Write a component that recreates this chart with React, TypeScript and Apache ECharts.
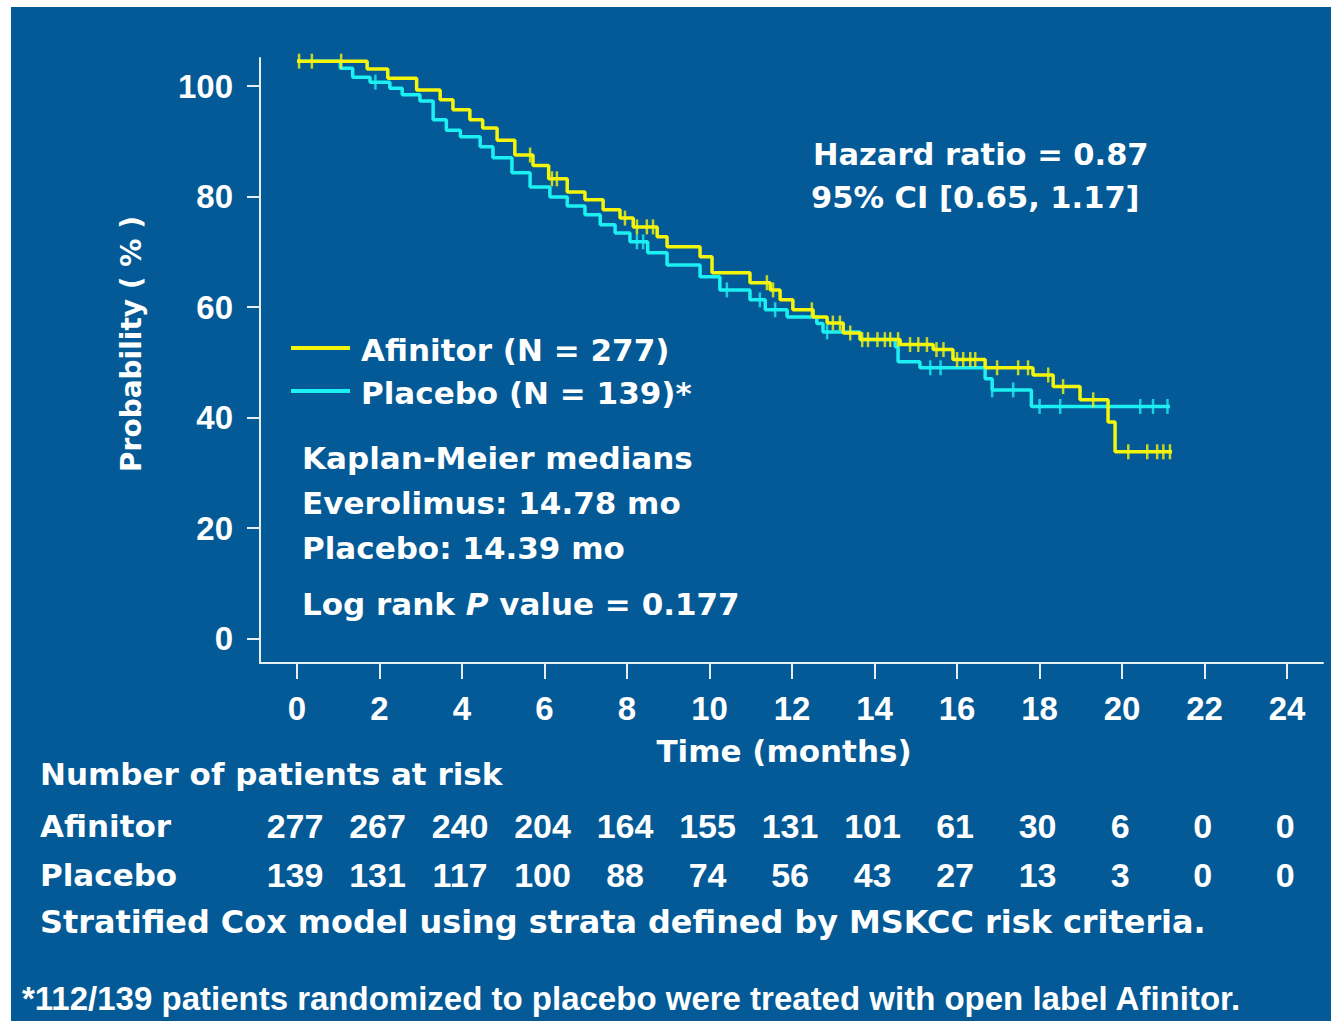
import React, { useEffect, useRef } from "react";
import * as echarts from "echarts";

// ---- data ----
const xTicks = [0, 2, 4, 6, 8, 10, 12, 14, 16, 18, 20, 22, 24];
const yTicks = [0, 20, 40, 60, 80, 100];

// KM step points: [time (months), probability after the step]
const afinitorSteps: [number, number][] = [
  [0, 104.5], [1.7, 103.1], [2.2, 101.4], [2.9, 99.3], [3.47, 97.5], [3.78, 95.7],
  [4.19, 93.9], [4.5, 92.4], [4.85, 90.2], [5.28, 87.5], [5.72, 85.6], [6.1, 83.2],
  [6.55, 80.8], [6.98, 79.4], [7.42, 77.6], [7.83, 76.1], [8.15, 74.5], [8.73, 72.7],
  [8.97, 70.9], [9.77, 69.1], [10.06, 66.2], [10.98, 64.4], [11.47, 63.1], [11.71, 61.3],
  [12.02, 59.5], [12.51, 58.2], [12.85, 57.1], [13.24, 55.3], [13.65, 54.1], [14.62, 53.2],
  [15.42, 52.3], [15.9, 50.5], [16.68, 49.0], [17.84, 47.7], [18.33, 45.6], [18.98, 43.2],
  [19.66, 39.2], [19.83, 33.8], [21.21, 33.8],
];
const placeboSteps: [number, number][] = [
  [0, 104.5], [1.05, 103.2], [1.35, 101.6], [1.77, 100.7], [2.25, 99.6], [2.55, 98.4],
  [2.98, 97.3], [3.3, 93.9], [3.62, 92.0], [3.96, 90.8], [4.44, 89.0], [4.75, 87.0],
  [5.21, 84.3], [5.65, 81.7], [6.13, 79.9], [6.55, 78.3], [6.98, 76.7], [7.35, 74.9],
  [7.71, 73.4], [8.07, 71.8], [8.5, 69.8], [8.97, 67.6], [9.77, 65.5], [10.25, 63.1],
  [10.98, 61.3], [11.35, 59.5], [11.88, 58.2], [12.6, 57.0], [12.75, 55.5], [13.65, 54.1],
  [14.5, 52.8], [14.57, 50.1], [15.1, 49.0], [16.68, 47.0], [16.85, 45.0], [17.8, 42.0],
  [21.16, 42.0],
];
const afinitorCensor = [
  0.05, 0.36, 1.07, 5.65, 6.18, 6.3, 7.95, 8.24, 8.48, 8.63, 11.39, 11.54, 12.48, 12.99,
  13.16, 13.41, 13.7, 13.84, 14.07, 14.25, 14.38, 14.57, 14.86, 15.06, 15.27, 15.5, 15.67,
  16.0, 16.15, 16.32, 16.44, 16.97, 17.48, 17.72, 18.21, 18.57, 19.3, 20.15, 20.61, 20.85,
  21.0, 21.16,
];
const placeboCensor = [
  1.9, 8.24, 8.39, 10.42, 11.22, 11.59, 12.85, 15.35, 15.6, 16.85, 17.36, 18.0, 18.5, 20.44,
  20.75, 21.1,
];

const riskTimes = [0, 2, 4, 6, 8, 10, 12, 14, 16, 18, 20, 22, 24];
const afinitorAtRisk = [277, 267, 240, 204, 164, 155, 131, 101, 61, 30, 6, 0, 0];
const placeboAtRisk = [139, 131, 117, 100, 88, 74, 56, 43, 27, 13, 3, 0, 0];

const YELLOW = "#F5F50A";
const CYAN = "#1CF0F2";
const BLUE = "#035A96";
const WHITE = "#FFFFFF";
const FONT = "DejaVu Sans";
const DIGIT_FONT = "Liberation Sans";

function stepAt(steps: [number, number][], t: number): number {
  let v = steps[0][1];
  for (const [x, y] of steps) {
    if (x <= t) v = y;
    else break;
  }
  return v;
}

export default function App() {
  const ref = useRef<HTMLDivElement>(null);

  useEffect(() => {
    if (!ref.current) return;
    const chart = echarts.init(ref.current, null, { renderer: "svg" });

    const axisLine = { show: true, lineStyle: { color: "#E6EEF5", width: 2 } };

    chart.setOption({
      animation: false,
      backgroundColor: "#FFFFFF",
      grid: { left: 260, top: 58, width: 1063, height: 605, containLabel: false },
      xAxis: {
        type: "value",
        min: -0.897,
        max: 24.87,
        axisLine: { ...axisLine, onZero: false },
        axisTick: { show: true, length: 16, lineStyle: { color: "#E6EEF5", width: 2 }, customValues: xTicks },
        axisLabel: {
          show: true,
          customValues: xTicks,
          color: WHITE,
          fontFamily: DIGIT_FONT,
          fontWeight: "bold",
          fontSize: 33,
          margin: 29,
        },
        splitLine: { show: false },
      },
      yAxis: {
        type: "value",
        min: -4.43,
        max: 105.07,
        axisLine: { ...axisLine, onZero: false },
        axisTick: { show: true, length: 13, lineStyle: { color: "#E6EEF5", width: 2 }, customValues: yTicks },
        axisLabel: {
          show: true,
          customValues: yTicks,
          color: WHITE,
          fontFamily: DIGIT_FONT,
          fontWeight: "bold",
          fontSize: 33,
          margin: 27,
        },
        splitLine: { show: false },
      },
      series: [
        {
          name: "Placebo (N = 139)*",
          type: "line",
          step: "end",
          data: placeboSteps,
          symbol: "none",
          lineStyle: { color: CYAN, width: 3.5 },
          z: 3,
        },
        {
          name: "Placebo censored",
          type: "scatter",
          data: placeboCensor.map((t) => [t, stepAt(placeboSteps, t)]),
          symbol: "rect",
          symbolSize: [2.5, 15],
          itemStyle: { color: CYAN },
          z: 3,
        },
        {
          name: "Afinitor (N = 277)",
          type: "line",
          step: "end",
          data: afinitorSteps,
          symbol: "none",
          lineStyle: { color: YELLOW, width: 3.5 },
          z: 4,
        },
        {
          name: "Afinitor censored",
          type: "scatter",
          data: afinitorCensor.map((t) => [t, stepAt(afinitorSteps, t)]),
          symbol: "rect",
          symbolSize: [2.5, 15],
          itemStyle: { color: YELLOW },
          z: 4,
        },
      ],
    });

    const txt = (text: string, x: number, y: number, extra: any = {}) => ({
      type: "text",
      x,
      y,
      silent: true,
      z: 10,
      style: {
        text,
        fill: WHITE,
        font: `bold 31px "${FONT}"`,
        textVerticalAlign: "middle",
        verticalAlign: "middle",
        ...extra,
      },
    });

    const px = (t: number) => chart.convertToPixel({ xAxisIndex: 0 }, t) as number;

    const elements: any[] = [
      {
        type: "rect",
        shape: { x: 11, y: 7, width: 1320, height: 1014 },
        style: { fill: BLUE },
        z: -100,
        silent: true,
      },
      txt("Hazard ratio = 0.87", 813, 154, { font: `bold 30.5px "${FONT}"` }),
      txt("95% CI [0.65, 1.17]", 811, 197, { font: `bold 30.5px "${FONT}"` }),
      {
        type: "line",
        shape: { x1: 291, y1: 348, x2: 350, y2: 348 },
        style: { stroke: YELLOW, lineWidth: 4 },
        z: 10,
        silent: true,
      },
      {
        type: "line",
        shape: { x1: 291, y1: 391, x2: 350, y2: 391 },
        style: { stroke: CYAN, lineWidth: 4 },
        z: 10,
        silent: true,
      },
      txt("Afinitor (N = 277)", 361, 350),
      txt("Placebo (N = 139)*", 361, 393),
      txt("Kaplan-Meier medians", 302, 458),
      txt("Everolimus: 14.78 mo", 302, 503),
      txt("Placebo: 14.39 mo", 302, 548),
      {
        type: "text",
        x: 302,
        y: 604,
        z: 10,
        silent: true,
        style: {
          text: "{a|Log rank }{i|P}{a| value = 0.177}",
          verticalAlign: "middle",
          rich: {
            a: { fill: WHITE, fontFamily: FONT, fontWeight: "bold", fontSize: 31 },
            i: { fill: WHITE, fontFamily: FONT, fontWeight: "bold", fontStyle: "italic", fontSize: 31 },
          },
        },
      },
      {
        type: "text",
        x: 131,
        y: 344,
        rotation: Math.PI / 2,
        z: 10,
        silent: true,
        style: {
          text: "Probability ( % )",
          fill: WHITE,
          font: `bold 28px "${FONT}"`,
          align: "center",
          verticalAlign: "middle",
        },
      },
      txt("Time (months)", 784, 751, { align: "center" }),
      txt("Number of patients at risk", 40, 774),
      txt("Afinitor", 40, 826),
      txt("Placebo", 40, 875),
      txt("Stratified Cox model using strata defined by MSKCC risk criteria.", 40, 922, {
        font: `bold 31.9px "${FONT}"`,
      }),
      txt("*112/139 patients randomized to placebo were treated with open label Afinitor.", 22, 998, {
        font: `bold 33px "${DIGIT_FONT}"`,
      }),
    ];

    riskTimes.forEach((t, i) => {
      elements.push(
        txt(String(afinitorAtRisk[i]), px(t) - 2, 826, { align: "center", font: `bold 34px "${DIGIT_FONT}"` })
      );
      elements.push(
        txt(String(placeboAtRisk[i]), px(t) - 2, 875, { align: "center", font: `bold 34px "${DIGIT_FONT}"` })
      );
    });

    chart.setOption({ graphic: { elements } });

    return () => chart.dispose();
  }, []);

  return (
    <div
      ref={ref}
      style={{ position: "absolute", left: 0, top: 0, width: 1331, height: 1021 }}
    />
  );
}
